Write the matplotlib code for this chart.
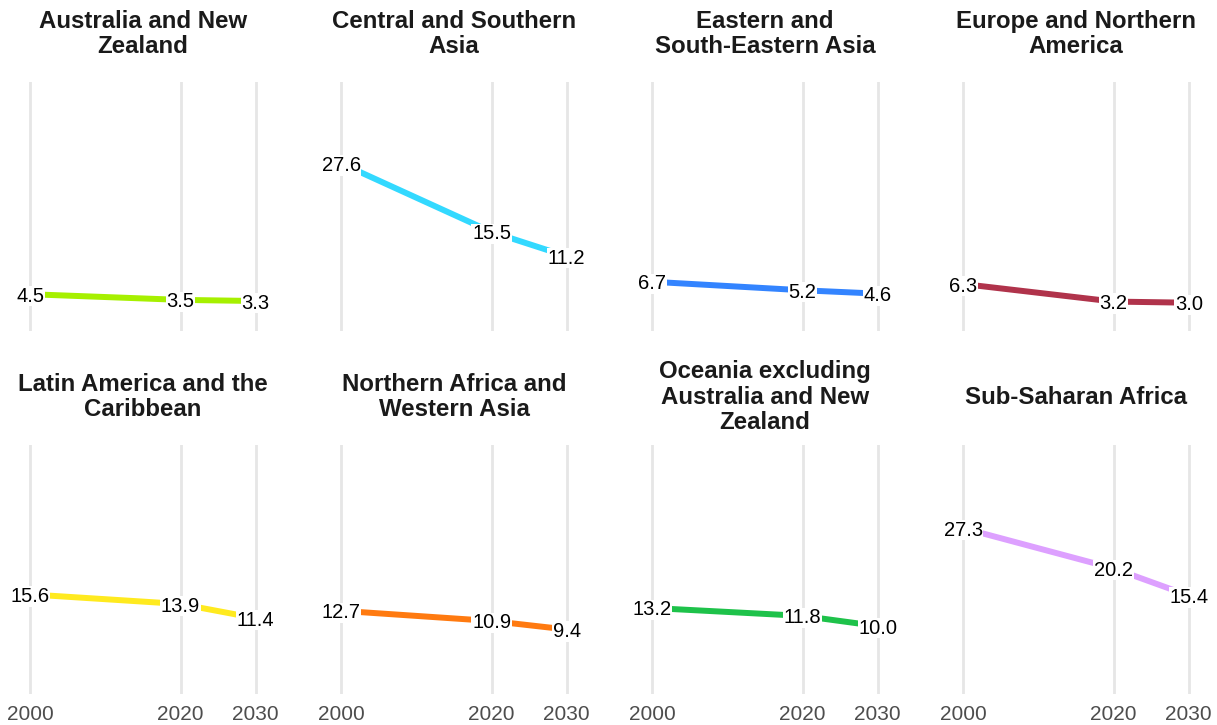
import matplotlib
matplotlib.use("Agg")
import matplotlib.pyplot as plt

plt.rcParams['font.family'] = ['Liberation Sans', 'DejaVu Sans']

regions = [
    "Australia and New\nZealand",
    "Central and Southern\nAsia",
    "Eastern and\nSouth-Eastern Asia",
    "Europe and Northern\nAmerica",
    "Latin America and the\nCaribbean",
    "Northern Africa and\nWestern Asia",
    "Oceania excluding\nAustralia and New\nZealand",
    "Sub-Saharan Africa",
]
years = [2000, 2020, 2030]
values = [
    [4.5, 3.5, 3.3],
    [27.6, 15.5, 11.2],
    [6.7, 5.2, 4.6],
    [6.3, 3.2, 3.0],
    [15.6, 13.9, 11.4],
    [12.7, 10.9, 9.4],
    [13.2, 11.8, 10.0],
    [27.3, 20.2, 15.4],
]
colors = ["#A6F000", "#33D9FF", "#3384FF", "#B0334B",
          "#FFEA1F", "#FF7A10", "#1EC24A", "#DDA0FF"]
year_ticks = [2000, 2020, 2030]

W, H = 1217, 725
fig = plt.figure(figsize=(W / 100, H / 100), dpi=100)

col_left = [19, 330, 641, 952]
row_top = [82, 445]
pw, ph = 248, 249
title_center = [34, 397]

for i, (name, vals, col) in enumerate(zip(regions, values, colors)):
    r, c = divmod(i, 4)
    left = col_left[c]
    top = row_top[r]
    ax = fig.add_axes([left / W, (H - top - ph) / H, pw / W, ph / H])
    ax.set_xlim(1998.5, 2031.5)
    ax.set_ylim(-2, 42)
    for s in ax.spines.values():
        s.set_visible(False)
    ax.set_yticks([])
    ax.set_xticks(year_ticks)
    ax.tick_params(axis='x', length=0, labelsize=15, labelcolor='#4D4D4D', pad=8)
    if r == 0:
        ax.set_xticklabels([])
    ax.grid(axis='x', color='#E6E6E6', linewidth=2.0)
    ax.set_axisbelow(True)
    ax.plot(years, vals, color=col, linewidth=4.3, solid_capstyle='butt', zorder=2)
    for x, v in zip(years, vals):
        ax.text(x, v, f"{v:.1f}", ha='center', va='center_baseline', fontsize=14.5,
                color='black', zorder=3,
                bbox=dict(facecolor='white', edgecolor='none', pad=0.4))
    fig.text((left + pw / 2) / W, 1 - title_center[r] / H, name, ha='center', va='center',
             fontsize=17.3, fontweight='bold', color='#1A1A1A', linespacing=1.16,
             multialignment='center')

fig.savefig("out.png", dpi=100, facecolor='white')
